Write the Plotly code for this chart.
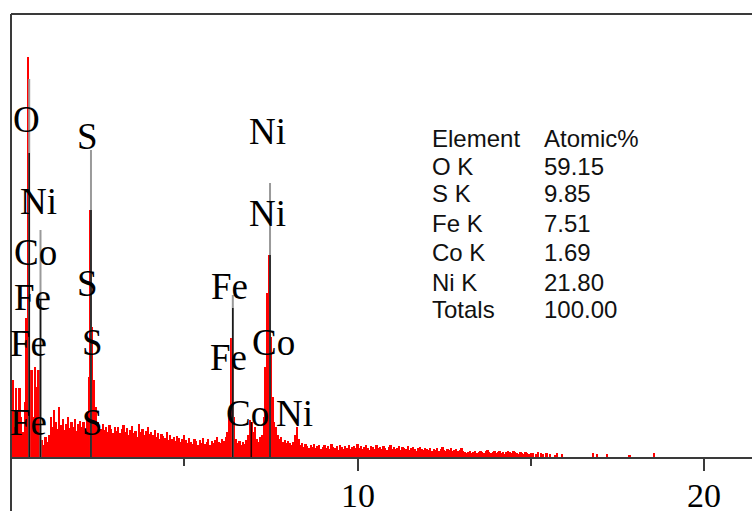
import plotly.graph_objects as go

# ---------------- data ----------------
channel_start_kev = 0.05
channel_step_kev = 0.05
# spectrum counts per 0.05 keV channel (one row = 1 keV)
counts = [
    77, 30, 69, 45, 69, 40, 25, 55, 139, 400, 60, 87, 40, 90, 70, 87, 67, 17, 12, 20,   # 0-1
    15, 22, 40, 30, 47, 35, 28, 50, 32, 38, 27, 33, 40, 29, 35, 30, 38, 26, 33, 36,     # 1-2
    30, 35, 28, 45, 80, 247, 130, 77, 50, 35, 30, 28, 33, 27, 30, 25, 32, 28, 24, 30,   # 2-3
    26, 30, 24, 28, 32, 25, 29, 22, 27, 31, 24, 26, 20, 33, 25, 28, 22, 26, 30, 23,     # 3-4
    25, 22, 27, 20, 24, 18, 23, 21, 19, 25, 17, 22, 18, 20, 16, 21, 19, 15, 18, 22,     # 4-5
    17, 14, 19, 15, 13, 18, 16, 12, 17, 14, 19, 13, 15, 18, 12, 16, 14, 17, 20, 15,     # 5-6
    14, 18, 16, 20, 25, 45, 119, 100, 40, 18, 14, 16, 12, 15, 13, 17, 22, 37, 35, 25,   # 6-7
    30, 18, 15, 20, 22, 40, 90, 164, 202, 120, 60, 35, 30, 22, 18, 20, 15, 17, 14, 16,  # 7-8
    14, 12, 15, 22, 30, 18, 12, 14, 10, 13, 11, 9, 12, 10, 13, 9, 11, 12, 8, 10,        # 8-9
    12, 9, 11, 8, 13, 10, 9, 11, 7, 12, 10, 8, 11, 9, 12, 8, 10, 11, 9, 13,             # 9-10
    9, 11, 8, 10, 12, 9, 7, 11, 10, 8, 12, 9, 10, 8, 11, 9, 7, 10, 12, 8,               # 10-11
    10, 8, 9, 11, 7, 10, 9, 8, 11, 7, 9, 10, 8, 6, 9, 10, 8, 7, 9, 8,                   # 11-12
    7, 9, 6, 8, 7, 9, 6, 8, 10, 7, 6, 8, 7, 9, 6, 7, 8, 6, 7, 9,                        # 12-13
    6, 5, 4, 5, 6, 4, 5, 6, 4, 5, 6, 5, 4, 6, 7, 5, 4, 5, 6, 4,                         # 13-14
    5, 6, 4, 5, 3, 5, 6, 5, 4, 6, 5, 4, 3, 5, 4, 3, 5, 4, 3, 4,                         # 14-15
    4, 0, 3, 5, 0, 4, 3, 0, 4, 0, 3, 0, 0, 2, 4, 0, 0, 3, 0, 0,                         # 15-16
    0, 0, 0, 0, 0, 0, 0, 0, 0, 0, 0, 0, 0, 0, 0, 4, 0, 3, 0, 0,                         # 16-17
    0, 0, 0, 3, 0, 0, 0, 0, 0, 0, 0, 0, 0, 0, 0, 0, 2, 0, 0, 0,                         # 17-18
    0, 0, 0, 0, 0, 0, 0, 0, 0, 0, 4, 0, 0, 0, 0, 0, 0, 0, 0, 0,                         # 18-19
]

# element marker lines (keV) with grey upper part and black lower part
marker_energy = [0.525, 0.851, 2.307, 6.398, 6.930, 7.471]
marker_grey_top = [378, 227, 307, 162, 0, 274]
marker_black_top = [304, 157, 247, 149, 35, 202]

# peak labels
label_text = ["O", "Ni", "Co", "Fe", "Fe", "Fe",
              "S", "S", "S", "S",
              "Ni", "Ni", "Fe", "Fe", "Co", "Co", "Ni"]
label_energy = [0.44, 0.79, 0.70, 0.62, 0.50, 0.50,
                2.20, 2.20, 2.35, 2.35,
                7.39, 7.39, 6.30, 6.27, 7.57, 6.82, 8.17]
label_height = [338, 256, 205, 160, 114, 35,
                321, 174, 115, 35,
                326, 244, 171, 100, 115, 44, 44]

# quantification table
table_element = ["Element", "O K", "S K", "Fe K", "Co K", "Ni K", "Totals"]
table_atomic = ["Atomic%", "59.15", "9.85", "7.51", "1.69", "21.80", "100.00"]

tick_values = [10, 20]
tick_labels = ["10", "20"]
minor_tick_values = [5, 15]

# ---------------- figure ----------------
W, H = 752, 511
BASE_PX = 457  # pixel row of the zero line
ML, MR, MT, MB = 11, 0, 14, H - BASE_PX
PX_PER_KEV = 34.67

plot_w = W - ML - MR
plot_h = H - MT - MB

energies = [round(channel_start_kev + i * channel_step_kev, 3) for i in range(len(counts))]

fig = go.Figure()
fig.add_trace(go.Bar(x=energies, y=counts, marker=dict(color="#ff0000", line=dict(width=0)),
                     width=channel_step_kev, hoverinfo="skip"))

for e, g in zip(marker_energy, marker_grey_top):
    if g > 0:
        fig.add_trace(go.Scatter(x=[e, e], y=[0, g], mode="lines",
                                 line=dict(color="#9a9a9a", width=2), hoverinfo="skip"))
for e, b in zip(marker_energy, marker_black_top):
    fig.add_trace(go.Scatter(x=[e, e], y=[0, b], mode="lines",
                             line=dict(color="rgba(0,0,0,0.85)", width=1.6), hoverinfo="skip"))

serif = "Liberation Serif, Times New Roman, serif"
sans = "Liberation Sans, Arial, sans-serif"


def px_to_paper_x(px):
    return (px - ML) / plot_w


def px_to_paper_y(py):
    return (H - MB - py) / plot_h


annotations = []
for t, e, h in zip(label_text, label_energy, label_height):
    annotations.append(dict(x=e, y=h, xref="x", yref="y", text=t, showarrow=False,
                            xanchor="center", yanchor="middle",
                            font=dict(family=serif, size=37, color="#000")))

# x tick labels (drawn as annotations so they sit like the reference)
for v, t in zip(tick_values, tick_labels):
    annotations.append(dict(x=v, y=px_to_paper_y(495), xref="x", yref="paper", text=t,
                            showarrow=False, xanchor="center", yanchor="middle",
                            font=dict(family=serif, size=34, color="#000")))

row_centers = [137, 165, 193, 222, 251, 281, 308]
for i, (el, at) in enumerate(zip(table_element, table_atomic)):
    yc = px_to_paper_y(row_centers[i] + 1)
    annotations.append(dict(x=px_to_paper_x(430), y=yc, xref="paper", yref="paper", text=el,
                            showarrow=False, xanchor="left", yanchor="middle",
                            font=dict(family=sans, size=24, color="#111")))
    annotations.append(dict(x=px_to_paper_x(542), y=yc, xref="paper", yref="paper", text=at,
                            showarrow=False, xanchor="left", yanchor="middle",
                            font=dict(family=sans, size=24, color="#111")))

frame_color = "#3a3a3a"
shapes = [
    dict(type="line", xref="paper", yref="paper", x0=0, x1=0, y0=px_to_paper_y(H + 2), y1=1,
         line=dict(color=frame_color, width=2)),
    dict(type="line", xref="paper", yref="paper", x0=0, x1=1, y0=1, y1=1,
         line=dict(color=frame_color, width=2)),
]

fig.update_layout(
    width=W, height=H,
    margin=dict(l=ML, r=MR, t=MT, b=MB, pad=0, autoexpand=False),
    paper_bgcolor="white", plot_bgcolor="white",
    showlegend=False, bargap=0,
    annotations=annotations, shapes=shapes,
    xaxis=dict(range=[0, plot_w / PX_PER_KEV], automargin=False,
               showline=True, linecolor=frame_color, linewidth=2,
               ticks="outside", ticklen=12, tickwidth=2, tickcolor=frame_color,
               tickmode="array", tickvals=tick_values, showticklabels=False,
               showgrid=False, zeroline=False,
               minor=dict(tickmode="array", tickvals=minor_tick_values, ticks="outside",
                          ticklen=7, tickwidth=2, tickcolor=frame_color, showgrid=False)),
    yaxis=dict(range=[0, BASE_PX - MT], visible=False, showgrid=False, zeroline=False,
               automargin=False),
)

fig.write_html("out.html", config={"displayModeBar": False},
               post_script="document.body.style.margin='0';document.body.style.overflow='hidden';")
